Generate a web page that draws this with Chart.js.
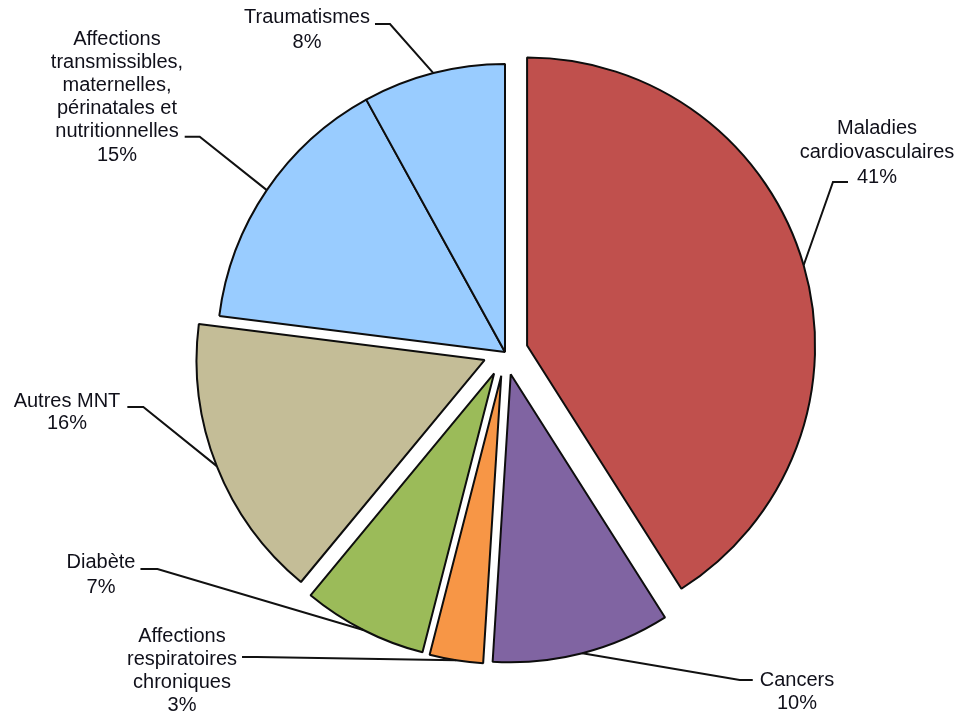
<!DOCTYPE html>
<html>
<head>
<meta charset="utf-8">
<script src="https://cdn.jsdelivr.net/npm/chart.js@4.4.1/dist/chart.umd.min.js"></script>
<style>
  html, body { margin: 0; padding: 0; background: #ffffff; }
  #c { display: block; }
</style>
</head>
<body>
<canvas id="c" width="959" height="715"></canvas>
<script>
// ---- data ----
const categories = [
  'Maladies cardiovasculaires',
  'Cancers',
  'Affections respiratoires chroniques',
  'Diabète',
  'Autres MNT',
  'Affections transmissibles, maternelles, périnatales et nutritionnelles',
  'Traumatismes'
];
const values = [41, 10, 3, 7, 16, 15, 8];
// text of each category as broken into lines on the chart
const labelLines = [
  ['Maladies', 'cardiovasculaires'],
  ['Cancers'],
  ['Affections', 'respiratoires', 'chroniques'],
  ['Diabète'],
  ['Autres MNT'],
  ['Affections', 'transmissibles,', 'maternelles,', 'périnatales et', 'nutritionnelles'],
  ['Traumatismes']
];

// ---- styles ----
const colors = ['#C0504D', '#8064A2', '#F79646', '#9BBB59', '#C4BD97', '#99CCFF', '#99CCFF'];
const explode = [23, 23, 24, 24, 22, 0, 0];
// label placement relative to pie centre: text centre x, first line centre y, line height,
// which line the leader attaches to, side, vertical shift of the attach point, gap, elbow length
const labelPlace = [
  { dx: 372,   dy: -224, lh: 24.5, line: 2, side: 'left',  ady: 5,  gap: 9, seg: 15 },
  { dx: 292,   dy: 328,  lh: 23,   line: 0, side: 'left',  ady: 0,  gap: 7, seg: 13 },
  { dx: -323,  dy: 284,  lh: 23,   line: 1, side: 'right', ady: -2, gap: 5, seg: 15 },
  { dx: -404,  dy: 210,  lh: 25,   line: 0, side: 'right', ady: 7,  gap: 5, seg: 17 },
  { dx: -438,  dy: 49,   lh: 22,   line: 0, side: 'right', ady: 6,  gap: 7, seg: 16 },
  { dx: -388,  dy: -313, lh: 23.2, line: 4, side: 'right', ady: 5,  gap: 6, seg: 15 },
  { dx: -198,  dy: -335, lh: 25,   line: 0, side: 'right', ady: 7,  gap: 5, seg: 15 }
];
const FONT = '20px "Liberation Sans", Arial, sans-serif';

const total = values.reduce((a, b) => a + b, 0);

const explodePlugin = {
  id: 'explodeDraw',
  beforeDatasetDraw(chart, args) {
    const ctx = chart.ctx;
    const meta = args.meta;
    meta.data.forEach((arc, i) => {
      const mid = (arc.startAngle + arc.endAngle) / 2;
      const e = explode[i] || 0;
      ctx.save();
      ctx.translate(Math.cos(mid) * e, Math.sin(mid) * e);
      arc.draw(ctx, chart.chartArea);
      ctx.restore();
    });
    return false;
  }
};

const labelPlugin = {
  id: 'leaderLabels',
  afterDatasetsDraw(chart) {
    const ctx = chart.ctx;
    const meta = chart.getDatasetMeta(0);
    ctx.save();
    ctx.font = FONT;
    meta.data.forEach((arc, i) => {
      const p = labelPlace[i];
      const mid = (arc.startAngle + arc.endAngle) / 2;
      const e = explode[i] || 0;
      const ax = arc.x + Math.cos(mid) * (e + arc.outerRadius);
      const ay = arc.y + Math.sin(mid) * (e + arc.outerRadius);
      const pct = Math.round(values[i] / total * 100) + '%';
      const lines = labelLines[i].concat([pct]);
      const cx = arc.x + p.dx;
      const cy0 = arc.y + p.dy;
      // leader line
      const attText = lines[p.line];
      const w = ctx.measureText(attText).width;
      const ly = cy0 + p.line * p.lh + p.ady;
      let sx, ex;
      if (p.side === 'left') { sx = cx - w / 2 - p.gap; ex = sx - p.seg; }
      else { sx = cx + w / 2 + p.gap; ex = sx + p.seg; }
      ctx.strokeStyle = '#111111';
      ctx.lineWidth = 2;
      ctx.beginPath();
      ctx.moveTo(sx, ly);
      ctx.lineTo(ex, ly);
      ctx.lineTo(ax, ay);
      ctx.stroke();
      // text
      ctx.fillStyle = '#10101a';
      ctx.textAlign = 'center';
      ctx.textBaseline = 'middle';
      lines.forEach((t, k) => ctx.fillText(t, cx, cy0 + k * p.lh));
    });
    ctx.restore();
  }
};

new Chart(document.getElementById('c'), {
  type: 'pie',
  data: {
    labels: categories,
    datasets: [{
      data: values,
      backgroundColor: colors,
      borderColor: '#0d0d0d',
      borderWidth: 2,
      hoverOffset: 0
    }]
  },
  options: {
    responsive: false,
    animation: false,
    devicePixelRatio: 1,
    radius: 288,
    layout: { padding: { left: 60, right: 9, top: 10, bottom: 21 } },
    plugins: {
      legend: { display: false },
      tooltip: { enabled: false },
      title: { display: false }
    },
    events: []
  },
  plugins: [explodePlugin, labelPlugin]
});
</script>
</body>
</html>
